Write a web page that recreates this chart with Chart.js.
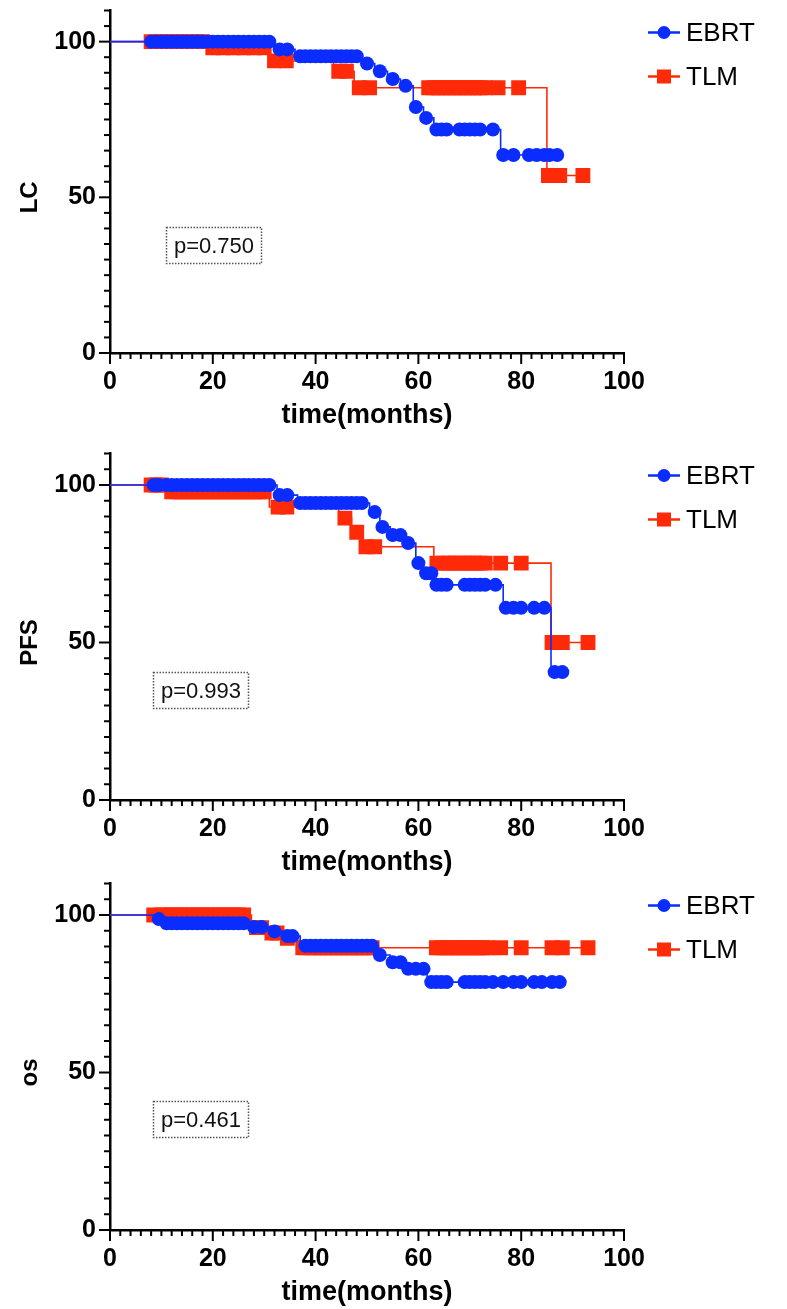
<!DOCTYPE html>
<html>
<head>
<meta charset="utf-8">
<script src="https://cdn.jsdelivr.net/npm/chart.js@4.4.1/dist/chart.umd.min.js"></script>
<style>
  html, body { margin: 0; padding: 0; background: #fff; overflow: hidden; }
  body { width: 787px; height: 1309px; position: relative; }
  canvas { position: absolute; left: 0; }
</style>
</head>
<body>
<canvas id="lc" width="787" height="435" style="top:0px"></canvas>
<canvas id="pfs" width="787" height="439" style="top:443px"></canvas>
<canvas id="os" width="787" height="439" style="top:873px"></canvas>
<script>
// Kaplan-Meier curves: event times / survival after each event, plus censoring times

// local control
const lcEbrtTimes = [32, 36, 49, 51.5, 54, 56.5, 59, 61, 63, 76];
const lcEbrtSurv = [97.5, 95.3, 93.0, 90.5, 88.0, 85.8, 79.0, 75.5, 71.8, 63.6];
const lcEbrtCensor = [8, 9, 10, 11, 12, 13, 14, 15, 16, 17, 18, 19, 20, 21, 22, 23, 24, 25, 26, 27, 28, 29, 30, 31,
  33, 34.5, 37, 38, 39, 40, 41, 42, 43, 44, 45, 46, 47, 48, 50, 52.5, 55, 57.5, 59.5, 61.5,
  63.5, 64.5, 65.5, 68, 69, 70, 71, 72, 74.5, 76.5, 78.5, 81.5, 83, 84.5, 85.5, 87];
const lcTlmTimes = [19, 31, 43.5, 47.5, 85];
const lcTlmSurv = [98.0, 93.8, 90.5, 85.2, 57.0];
const lcTlmCensor = [8, 9, 10, 11, 12, 13, 14, 15, 16, 17, 18, 20, 22, 24, 26, 28, 30, 32, 34.3,
  44.5, 46, 48.5, 50.5, 62, 63, 64, 65, 66, 67, 68, 69, 70, 71, 72, 73, 75.5, 79.5, 85.3, 87.5, 92];

// progression-free survival
const pfsEbrtTimes = [32.5, 36.5, 50.5, 52.5, 54.5, 57.5, 59.5, 61, 63, 76.5, 85.8];
const pfsEbrtSurv = [96.8, 94.3, 91.4, 86.7, 84.1, 81.6, 75.2, 72.0, 68.3, 61.0, 40.6];
const pfsEbrtCensor = [8.5, 9.5, 11, 12, 13, 14, 15, 16, 17, 18, 19, 20, 21, 22, 23, 24, 25, 26, 27, 28, 29, 30, 31,
  33, 34.5, 37, 38, 39, 40, 41, 42, 43, 44, 45, 46, 47, 48, 49, 51.5, 53, 55, 56.5, 58, 60, 61.5, 62.5,
  63.5, 64.5, 65.5, 69, 70, 71, 72, 73, 75, 77, 78.5, 80, 82.5, 84.5, 86.5, 88];
const pfsTlmTimes = [11, 31, 44.5, 47, 48.8, 63, 85.8];
const pfsTlmSurv = [97.8, 93.0, 89.5, 85.0, 80.4, 75.2, 50.0];
const pfsTlmCensor = [8, 9, 10, 12, 13, 14, 15, 16, 17, 18, 19, 20, 21, 22, 23, 24, 25, 26, 27, 28, 29, 30,
  32.7, 34.4, 45.7, 48, 49.8, 51.5, 63.6, 65, 66, 67, 68, 69, 70, 71, 72, 73, 76, 80, 86, 88, 93];

// overall survival
const osEbrtTimes = [9, 10.5, 27, 31, 33.5, 37, 52, 54.5, 57.5, 61.7];
const osEbrtSurv = [98.7, 97.4, 96.2, 94.8, 93.3, 90.2, 87.3, 85.0, 82.9, 78.7];
const osEbrtCensor = [9.5, 11, 12, 13, 14, 15, 16, 17, 18, 19, 20, 21, 22, 23, 24, 25, 26, 28, 29.5, 32,
  34.5, 35.5, 38, 39, 40, 41, 42, 43, 44, 45, 46, 47, 48, 49, 50, 51, 52.5, 55, 56.5, 58, 59.5, 61,
  62.5, 63.5, 64.5, 65.5, 69, 70, 71, 72, 73, 74.5, 76.5, 78.5, 80, 82.5, 84, 86, 87.5];
const osTlmTimes = [27.5, 30.5, 33.5, 36.5];
const osTlmSurv = [96.0, 94.3, 92.6, 89.6];
const osTlmCensor = [8.5, 10, 11, 12, 13, 14, 15, 16, 17, 18, 19, 20, 21, 22, 23, 24, 25, 26, 28.5, 29.5,
  31.5, 32.5, 34.5, 37.5, 39, 40, 41, 42, 43, 44, 45, 46, 47, 48, 49, 50, 51,
  63.5, 64.5, 65.5, 66.5, 67.5, 68.5, 69.5, 70.5, 71.5, 72.5, 73.5, 76, 80, 86, 88, 93];

const groupNames = ['EBRT', 'TLM'];
const pValues = ['p=0.750', 'p=0.993', 'p=0.461'];
const yTitles = ['LC', 'PFS', 'os'];

const BLUE = '#0a2cff';
const RED = '#ff2b08';
const FONT = '"Liberation Sans", Arial, Helvetica, sans-serif';

// survival value of the step curve at time t
function survAt(times, surv, t) {
  let s = 100;
  times.forEach((tt, i) => { if (tt <= t) s = surv[i]; });
  return s;
}

function stepPoints(times, surv, censor) {
  const pts = [{ x: 0, y: 100 }];
  times.forEach((t, i) => pts.push({ x: t, y: surv[i] }));
  const end = Math.max(...censor, ...times);
  pts.push({ x: end, y: survAt(times, surv, end) });
  return pts;
}

function censorPoints(times, surv, censor) {
  return censor.map(t => ({ x: t, y: survAt(times, surv, t) }));
}

// axis ticks, y title, p-value box and legend
const decor = {
  id: 'decor',
  afterDraw(chart, args, opts) {
    const { ctx, chartArea: area, scales: { x, y } } = chart;
    ctx.save();
    ctx.strokeStyle = '#000';
    ctx.lineWidth = 2;
    for (let v = 0; v <= 110; v += 5) {
      const py = y.getPixelForValue(v);
      const len = v % 50 === 0 ? 11 : 6;
      ctx.beginPath();
      ctx.moveTo(area.left, py);
      ctx.lineTo(area.left - len, py);
      ctx.stroke();
    }
    for (let v = 0; v <= 100; v += 2) {
      const px = x.getPixelForValue(v);
      const len = v % 20 === 0 ? 11 : 6;
      ctx.beginPath();
      ctx.moveTo(px, area.bottom);
      ctx.lineTo(px, area.bottom + len);
      ctx.stroke();
    }

    // y axis title
    ctx.save();
    ctx.translate(30, y.getPixelForValue(50));
    ctx.rotate(-Math.PI / 2);
    ctx.font = `bold 24px ${FONT}`;
    ctx.fillStyle = '#000';
    ctx.textAlign = 'center';
    ctx.textBaseline = 'middle';
    ctx.fillText(opts.title, 0, 0);
    ctx.restore();

    // p-value box
    const bx = Math.round(x.getPixelForValue(opts.boxAt[0])) + 0.5;
    const by = Math.round(y.getPixelForValue(opts.boxAt[1])) + 0.5;
    const bw = 95, bh = 36;
    ctx.save();
    ctx.setLineDash([1.5, 1.5]);
    ctx.lineWidth = 1.5;
    ctx.strokeStyle = '#555';
    ctx.strokeRect(bx, by, bw, bh);
    ctx.restore();
    ctx.font = `22px ${FONT}`;
    ctx.fillStyle = '#111';
    ctx.textAlign = 'center';
    ctx.textBaseline = 'middle';
    ctx.fillText(opts.p, bx + bw / 2, by + bh / 2 + 1);

    // legend
    const lx = area.right + 40;
    [[BLUE, 'circle'], [RED, 'rect']].forEach(([col, shape], i) => {
      const ly = area.top + (i === 0 ? 22 : 66);
      ctx.strokeStyle = col;
      ctx.fillStyle = col;
      ctx.lineWidth = 2.5;
      ctx.beginPath();
      ctx.moveTo(lx - 16, ly);
      ctx.lineTo(lx + 16, ly);
      ctx.stroke();
      if (shape === 'circle') {
        ctx.beginPath();
        ctx.arc(lx, ly, 6.5, 0, Math.PI * 2);
        ctx.fill();
      } else {
        ctx.fillRect(lx - 7, ly - 7, 14, 14);
      }
      ctx.fillStyle = '#000';
      ctx.font = `26px ${FONT}`;
      ctx.textAlign = 'left';
      ctx.textBaseline = 'middle';
      ctx.fillText(groupNames[i], lx + 22, ly + 1);
    });
    ctx.restore();
  }
};

function drawKM(id, idx, ebrt, tlm, boxAt) {
  new Chart(document.getElementById(id), {
    type: 'line',
    data: {
      datasets: [
        {
          label: groupNames[0], data: censorPoints(...ebrt), showLine: false,
          pointStyle: 'circle', pointRadius: 7, pointBorderWidth: 0,
          pointBackgroundColor: BLUE, borderColor: BLUE
        },
        {
          label: groupNames[0], data: stepPoints(...ebrt), stepped: 'before',
          borderColor: BLUE, borderWidth: 1.6, pointRadius: 0, fill: false
        },
        {
          label: groupNames[1], data: censorPoints(...tlm), showLine: false,
          pointStyle: 'rect', pointRadius: 10.5, pointBorderWidth: 0,
          pointBackgroundColor: RED, borderColor: RED
        },
        {
          label: groupNames[1], data: stepPoints(...tlm), stepped: 'before',
          borderColor: RED, borderWidth: 1.6, pointRadius: 0, fill: false
        }
      ]
    },
    options: {
      responsive: false,
      animation: false,
      events: [],
      layout: { padding: { top: 10, right: 163, left: 0, bottom: 0 } },
      plugins: {
        legend: { display: false },
        tooltip: { enabled: false },
        decor: { title: yTitles[idx], p: pValues[idx], boxAt }
      },
      scales: {
        x: {
          type: 'linear', min: 0, max: 100,
          afterFit: s => { s.height = 82; s.paddingLeft = 0; s.paddingRight = 0; },
          grid: { drawOnChartArea: false, drawTicks: false },
          border: { color: '#000', width: 2.5 },
          ticks: { stepSize: 20, autoSkip: false, padding: 14, color: '#000',
            font: { family: FONT, size: 25, weight: 'bold' } },
          title: { display: true, text: 'time(months)', color: '#000',
            padding: { top: 0, bottom: 3 }, font: { family: FONT, size: 27, weight: 'bold' } }
        },
        y: {
          type: 'linear', min: 0, max: 110,
          afterFit: s => { s.width = 110; s.paddingTop = 0; s.paddingBottom = 0; },
          grid: { drawOnChartArea: false, drawTicks: false },
          border: { color: '#000', width: 2.5 },
          ticks: { stepSize: 10, autoSkip: false, padding: 14, color: '#000',
            font: { family: FONT, size: 25, weight: 'bold' },
            callback: v => (v % 50 === 0 ? v : '') }
        }
      }
    },
    plugins: [decor]
  });
}

drawKM('lc', 0, [lcEbrtTimes, lcEbrtSurv, lcEbrtCensor], [lcTlmTimes, lcTlmSurv, lcTlmCensor], [10.9, 40.4]);
drawKM('pfs', 1, [pfsEbrtTimes, pfsEbrtSurv, pfsEbrtCensor], [pfsTlmTimes, pfsTlmSurv, pfsTlmCensor], [8.4, 40.6]);
drawKM('os', 2, [osEbrtTimes, osEbrtSurv, osEbrtCensor], [osTlmTimes, osTlmSurv, osTlmCensor], [8.4, 41]);
</script>
</body>
</html>
